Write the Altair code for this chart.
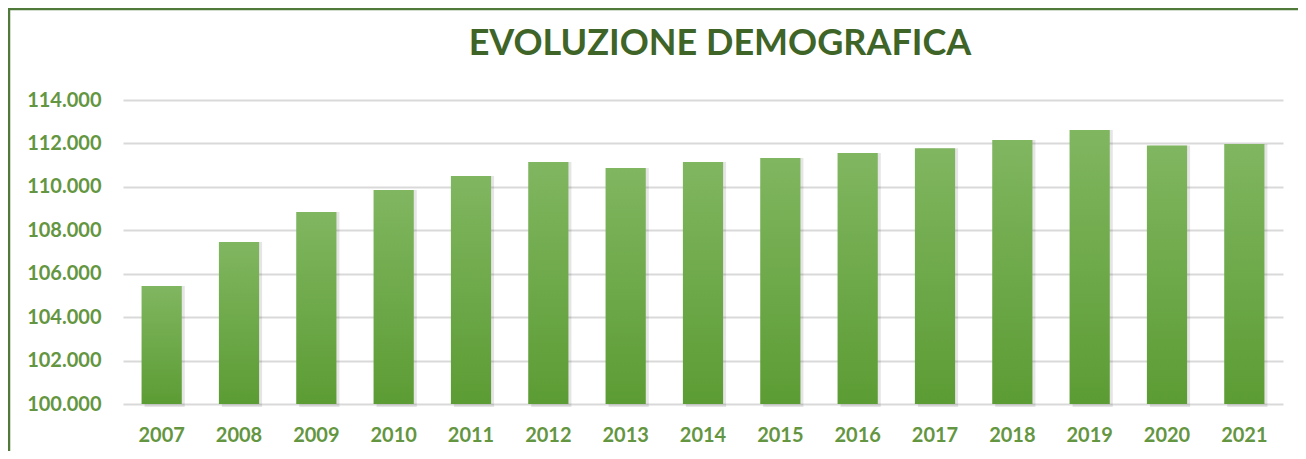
import altair as alt
import pandas as pd

years = ["2007", "2008", "2009", "2010", "2011", "2012", "2013", "2014",
         "2015", "2016", "2017", "2018", "2019", "2020", "2021"]
popolazione = [105430, 107460, 108840, 109850, 110500, 111150, 110870, 111150,
               111330, 111560, 111780, 112160, 112620, 111900, 111970]
y_ticks = [100000, 102000, 104000, 106000, 108000, 110000, 112000, 114000]
TITLE = "EVOLUZIONE DEMOGRAFICA"

df = pd.DataFrame({"anno": years, "pop": popolazione})

W, H = 1160, 304
FONT = "Lato"
LABEL_GREEN = "#649641"
TITLE_GREEN = "#3e6427"

x_enc = alt.X("anno:N", sort=years,
              scale=alt.Scale(paddingInner=0.48, paddingOuter=0.24),
              axis=alt.Axis(title=None, labelAngle=0, ticks=False, domain=False,
                            labelPadding=21, labelFont=FONT, labelFontSize=20,
                            labelFontWeight="bold", labelColor=LABEL_GREEN))
y_enc = alt.Y("pop:Q",
              scale=alt.Scale(domain=[100000, 114000], zero=False, nice=False),
              axis=alt.Axis(title=None, values=y_ticks, ticks=False, domain=False,
                            labelPadding=22, labelFont=FONT, labelFontSize=20,
                            labelFontWeight="bold", labelColor=LABEL_GREEN,
                            gridColor="#d9d9d9", gridWidth=2,
                            labelExpr="replace(format(datum.value, ','), ',', '.')"))

base = alt.Chart(df)

shadow = base.mark_bar(color="#000000", opacity=0.10, xOffset=3, yOffset=0,
                       y2Offset=3).encode(x=x_enc, y=y_enc, y2=alt.datum(100000))

bars = base.mark_bar(
    color=alt.Gradient(gradient="linear",
                       stops=[alt.GradientStop(color="#80b660", offset=0),
                              alt.GradientStop(color="#5c9c34", offset=1)],
                       x1=0, x2=0, y1=0, y2=1)
).encode(x=x_enc, y=y_enc, y2=alt.datum(100000))

frame = alt.Chart(pd.DataFrame({"f": [0]})).mark_rect(
    fill=None, stroke="#4f7a3a", strokeWidth=2.5
).encode(x=alt.value(-114), x2=alt.value(W + 60), y=alt.value(-91), y2=alt.value(H + 80))

title = alt.Chart(pd.DataFrame({"t": [TITLE]})).mark_text(
    font=FONT, fontSize=36, fontWeight="bold", color=TITLE_GREEN,
    align="center", baseline="middle"
).encode(text="t:N", x=alt.value(597), y=alt.value(-56))

chart = alt.layer(shadow, bars, frame, title).properties(
    width=W, height=H,
    autosize=alt.AutoSizeParams(type="none"),
    padding={"left": 115, "top": 92, "right": 15, "bottom": 47},
).configure(background="white", view=alt.ViewConfig(stroke=None))

chart.save("out.html", embed_options={"renderer": "svg", "actions": False})
